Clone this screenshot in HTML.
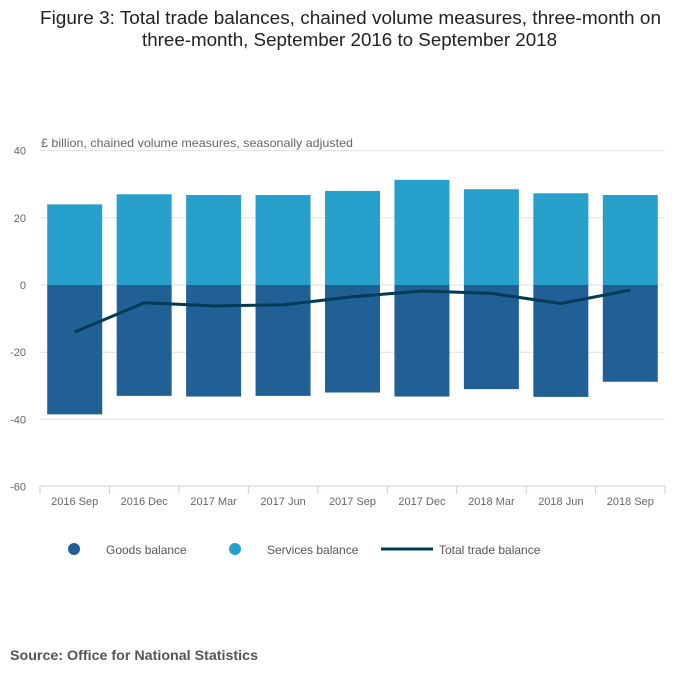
<!DOCTYPE html>
<html><head><meta charset="utf-8"><style>
body{margin:0;background:#fff;font-family:"Liberation Sans",sans-serif;}
</style></head><body>
<svg width="700" height="682" xmlns="http://www.w3.org/2000/svg" id="chart">
<text x="40" y="24" textLength="621" lengthAdjust="spacingAndGlyphs" font-size="18" fill="#222">Figure 3: Total trade balances, chained volume measures, three-month on</text>
<text x="142" y="46" textLength="415" lengthAdjust="spacingAndGlyphs" font-size="18" fill="#222">three-month, September 2016 to September 2018</text>
<text x="41" y="147" textLength="312" lengthAdjust="spacingAndGlyphs" font-size="12" fill="#666">£ billion, chained volume measures, seasonally adjusted</text>
<g id="grid"></g><g id="bars"></g><g id="line"></g><g id="axis"></g>
<g>
<circle cx="74" cy="549" r="6" fill="#206095"/>
<text x="106" y="554" font-size="12" fill="#555">Goods balance</text>
<circle cx="235" cy="549" r="6" fill="#27a0cc"/>
<text x="267" y="554" font-size="12" fill="#555">Services balance</text>
<line x1="381" y1="549" x2="433" y2="549" stroke="#003c57" stroke-width="3"/>
<text x="439" y="554" font-size="12" fill="#555">Total trade balance</text>
</g>
<text x="10" y="660" textLength="248" lengthAdjust="spacingAndGlyphs" font-size="14" font-weight="bold" fill="#555">Source: Office for National Statistics</text>
</svg>
<script>
const categories=["2016 Sep","2016 Dec","2017 Mar","2017 Jun","2017 Sep","2017 Dec","2018 Mar","2018 Jun","2018 Sep"];
const services=[24,27,26.8,26.8,28,31.3,28.5,27.3,26.8];
const goods=[-38.5,-33,-33.2,-33,-32,-33.2,-31,-33.3,-28.8];
const total=[-14,-5.3,-6.2,-5.9,-3.5,-1.8,-2.5,-5.5,-1.5];
const yTicks=[40,20,0,-20,-40,-60];
const NS="http://www.w3.org/2000/svg";
const x0=40,x1=665,bw=(x1-x0)/categories.length;
function y(v){return 285-v*(67.2/20);}
function xc(i){return x0+bw*(i+0.5);}
function mk(t,a,p){const e=document.createElementNS(NS,t);for(const k in a)e.setAttribute(k,a[k]);document.getElementById(p).appendChild(e);return e;}
yTicks.forEach(v=>{
 if(v>-60){const g=mk('line',{x1:x0,x2:x1,y1:y(v),y2:y(v),stroke:'#e2e2e2'},'grid');
 
 }
 const t=mk('text',{x:26,y:y(v)+4,'text-anchor':'end','font-size':11,fill:'#666'},'axis');t.textContent=v;
 
 
});
const ax=mk('line',{x1:x0,x2:x1,y1:486,y2:486,stroke:'#c5d0e0'},'axis');


categories.forEach((c,i)=>{
 const tk=mk('line',{x1:x0+bw*i,x2:x0+bw*i,y1:486,y2:494,stroke:'#c5d0e0'},'axis');
 
 
 const t=mk('text',{x:xc(i),y:505,'text-anchor':'middle','font-size':11,fill:'#666'},'axis');t.textContent=c;
 
 
 const s=mk('rect',{x:xc(i)-27.5,width:55,y:y(services[i]),height:y(0)-y(services[i]),fill:'#27a0cc'},'bars');
 
 
 const g=mk('rect',{x:xc(i)-27.5,width:55,y:y(0),height:y(goods[i])-y(0),fill:'#206095'},'bars');
 
 
});
const tk2=mk('line',{x1:x1,x2:x1,y1:486,y2:494,stroke:'#c5d0e0'},'axis');


const pl=mk('polyline',{points:total.map((v,i)=>xc(i)+','+y(v)).join(' '),fill:'none',stroke:'#003c57','stroke-width':3,'stroke-linejoin':'round'},'line');


</script>
</body></html>
